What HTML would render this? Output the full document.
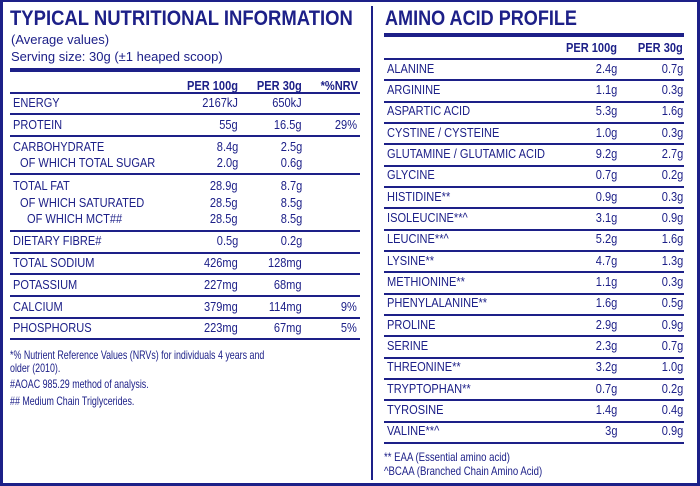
<!DOCTYPE html>
<html><head><meta charset="utf-8"><style>
html,body{margin:0;padding:0;background:#fff}
#root{position:relative;width:700px;height:486px;overflow:hidden;background:#fff;font-family:"Liberation Sans",sans-serif;color:#1d2088}
.frame{position:absolute;left:0;top:0;width:694px;height:481px;border:3px solid #1d2088;border-top-width:2px}
.t{position:absolute;white-space:nowrap;line-height:16px;height:16px}
.l{position:absolute;background:#1d2088}
</style></head><body>
<div id="root">
<div class="frame"></div>
<div class="l" style="left:371px;top:6px;width:2px;height:474px"></div>
</div>
<script>
const nutriLabels=["ENERGY","PROTEIN","CARBOHYDRATE","OF WHICH TOTAL SUGAR","TOTAL FAT","OF WHICH SATURATED","OF WHICH  MCT##","DIETARY FIBRE#","TOTAL SODIUM","POTASSIUM","CALCIUM","PHOSPHORUS"];
const nutriPer100=["2167kJ","55g","8.4g","2.0g","28.9g","28.5g","28.5g","0.5g","426mg","227mg","379mg","223mg"];
const nutriPer30=["650kJ","16.5g","2.5g","0.6g","8.7g","8.5g","8.5g","0.2g","128mg","68mg","114mg","67mg"];
const nutriNrv=["","29%","","","","","","","","","9%","5%"];
const aminoLabels=["ALANINE","ARGININE","ASPARTIC ACID","CYSTINE / CYSTEINE","GLUTAMINE / GLUTAMIC ACID","GLYCINE","HISTIDINE**","ISOLEUCINE**^","LEUCINE**^","LYSINE**","METHIONINE**","PHENYLALANINE**","PROLINE","SERINE","THREONINE**","TRYPTOPHAN**","TYROSINE","VALINE**^"];
const aminoPer100=["2.4g","1.1g","5.3g","1.0g","9.2g","0.7g","0.9g","3.1g","5.2g","4.7g","1.1g","1.6g","2.9g","2.3g","3.2g","0.7g","1.4g","3g"];
const aminoPer30=["0.7g","0.3g","1.6g","0.3g","2.7g","0.2g","0.3g","0.9g","1.6g","1.3g","0.3g","0.5g","0.9g","0.7g","1.0g","0.2g","0.4g","0.9g"];

const root=document.getElementById('root');
function txt(x,cy,s,size,bold,align,name,sx){
  const d=document.createElement('div');
  d.className='t';
  d.textContent=s;
  d.style.fontSize=size+'px';
  d.style.fontWeight=bold?'bold':'normal';
  d.style.top=(cy-8)+'px';
  d.style.transform='scaleX('+(sx||0.85)+')';
  if(align==='right'){d.style.right=(700-x)+'px';d.style.transformOrigin='right center';}
  else{d.style.left=x+'px';d.style.transformOrigin='left center';}
  
  
  root.appendChild(d);
}
function line(x,y,w,h,name){
  const d=document.createElement('div');
  d.className='l';
  d.style.left=x+'px';d.style.top=y+'px';d.style.width=w+'px';d.style.height=h+'px';
  
  
  root.appendChild(d);
}
// Left panel
txt(10,19,"TYPICAL NUTRITIONAL INFORMATION",21,true,'left','nutrition-title',0.88);
txt(11,40,"(Average values)",13,false,'left','average-values-note',1.0);
txt(11,57,"Serving size: 30g (±1 heaped scoop)",13,false,'left','serving-size-note',1.0);
line(10,68,350,4,'nutrition-header-bar');
txt(238,86,"PER 100g",13,true,'right','header-per-100g');
txt(302,86,"PER 30g",13,true,'right','header-per-30g');
txt(358,86,"*%NRV",13,true,'right','header-nrv');
const nCy=[103,125,147,163,186,203,219,241,263,285,307,328];
const nInd=[13,13,13,20,13,20,27,13,13,13,13,13];
for(let i=0;i<nutriLabels.length;i++){
  txt(nInd[i],nCy[i],nutriLabels[i],13,false,'left','nutrient-label');
  txt(238,nCy[i],nutriPer100[i],13,false,'right','nutrient-per-100g');
  txt(302,nCy[i],nutriPer30[i],13,false,'right','nutrient-per-30g');
  if(nutriNrv[i])txt(357,nCy[i],nutriNrv[i],13,false,'right','nutrient-nrv');
}
[92,113,135,173,230,252,273,295,317,338].forEach(y=>line(10,y,350,1.5,'nutrition-row-divider'));
txt(10,355,"*% Nutrient Reference Values (NRVs) for individuals 4 years and",12,false,'left','footnote-nrv',0.74);
txt(10,368,"older (2010).",12,false,'left','footnote-nrv-cont',0.74);
txt(10,384,"#AOAC 985.29 method of analysis.",12,false,'left','footnote-aoac',0.74);
txt(10,401,"## Medium Chain Triglycerides.",12,false,'left','footnote-mct',0.74);
// Right panel
txt(385,19,"AMINO ACID PROFILE",21,true,'left','amino-title',0.86);
line(384,33,300,4,'amino-header-bar');
txt(617,48,"PER 100g",13,true,'right','amino-header-per-100g');
txt(683,48,"PER 30g",13,true,'right','amino-header-per-30g');
const rowH=21.33;
line(384,58,300,1.5,'amino-row-divider');
for(let i=0;i<aminoLabels.length;i++){
  const cy=58+rowH*(i+0.5);
  txt(387,cy,aminoLabels[i],13,false,'left','amino-label');
  txt(617,cy,aminoPer100[i],13,false,'right','amino-per-100g');
  txt(683,cy,aminoPer30[i],13,false,'right','amino-per-30g');
  line(384,Math.round(58+rowH*(i+1)),300,1.5,'amino-row-divider');
}
txt(384,457,"** EAA (Essential amino acid)",12,false,'left','footnote-eaa',0.8);
txt(384,471,"^BCAA (Branched Chain Amino Acid)",12,false,'left','footnote-bcaa',0.8);
</script>
</body></html>
